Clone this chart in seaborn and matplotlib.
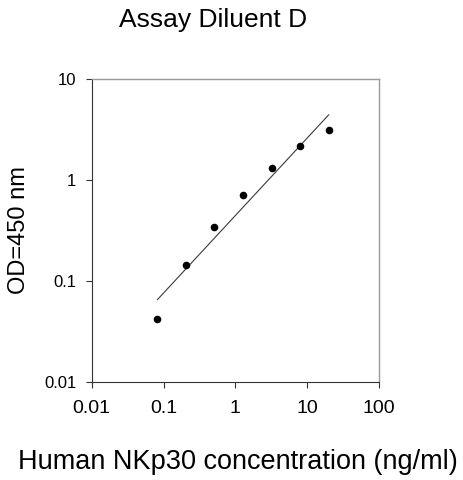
import numpy as np
import pandas as pd
import matplotlib
matplotlib.use("Agg")
import matplotlib.pyplot as plt
import matplotlib.ticker as mticker
import seaborn as sns

# Standard curve data
concentration = [0.082, 0.205, 0.512, 1.28, 3.2, 8.0, 20.0]
od_450 = [0.042, 0.144, 0.34, 0.71, 1.31, 2.16, 3.16]
x_ticks = [0.01, 0.1, 1, 10, 100]
y_ticks = [0.01, 0.1, 1, 10]
x_labels = ["0.01", "0.1", "1", "10", "100"]
y_labels = ["0.01", "0.1", "1", "10"]


def main():
    sns.set_style("white")
    plt.rcParams["font.family"] = ["Liberation Sans", "DejaVu Sans"]
    plt.rcParams["text.color"] = "black"
    plt.rcParams["axes.labelcolor"] = "black"
    plt.rcParams["xtick.color"] = "black"
    plt.rcParams["ytick.color"] = "black"

    df = pd.DataFrame({"conc": concentration, "od": od_450})

    # log-log linear fit, drawn between the lowest and highest standard
    slope, intercept = np.polyfit(np.log10(df["conc"]), np.log10(df["od"]), 1)
    fit_x = np.array([df["conc"].min(), df["conc"].max()])
    fit = pd.DataFrame({"conc": fit_x, "od": 10 ** (intercept + slope * np.log10(fit_x))})

    fig = plt.figure(figsize=(4.63, 4.80), dpi=100)
    ax = fig.add_axes([0.198, 0.2048, 0.6206, 0.63])

    sns.lineplot(data=fit, x="conc", y="od", ax=ax, color="#3a3a3a", linewidth=0.8)
    sns.scatterplot(data=df, x="conc", y="od", ax=ax, color="black", s=30,
                    edgecolor="black", linewidth=0, zorder=3)

    ax.set_xscale("log")
    ax.set_yscale("log")
    ax.set_xlim(0.01, 100)
    ax.set_ylim(0.01, 10)
    ax.xaxis.set_major_locator(mticker.FixedLocator(x_ticks))
    ax.yaxis.set_major_locator(mticker.FixedLocator(y_ticks))
    ax.xaxis.set_minor_locator(mticker.NullLocator())
    ax.yaxis.set_minor_locator(mticker.NullLocator())
    ax.set_xticklabels(x_labels)
    ax.set_yticklabels(y_labels)
    ax.tick_params(axis="x", direction="out", length=4, width=0.8, color="#333333",
                   labelcolor="black", labelsize=14, pad=9, bottom=True)
    ax.tick_params(axis="y", direction="out", length=4, width=0.8, color="#333333",
                   labelcolor="black", labelsize=12, pad=7, left=True)

    for side in ["left", "bottom"]:
        ax.spines[side].set_color("#333333")
        ax.spines[side].set_linewidth(0.8)
    for side in ["top", "right"]:
        ax.spines[side].set_color("#999999")
        ax.spines[side].set_linewidth(1.0)

    ax.set_xlabel("Human NKp30 concentration (ng/ml)", fontsize=19.5, color="black")
    ax.set_ylabel("OD=450 nm", fontsize=17, color="black")
    ax.xaxis.set_label_coords(0.509, -0.222)
    ax.yaxis.set_label_coords(-0.215, 0.5)

    fig.text(213 / 463, 1 - 27 / 480, "Assay Diluent D", fontsize=19,
             ha="center", va="baseline", color="black")

    fig.savefig("out.png", dpi=100, facecolor="white")
    plt.close(fig)


if __name__ == "__main__":
    main()
